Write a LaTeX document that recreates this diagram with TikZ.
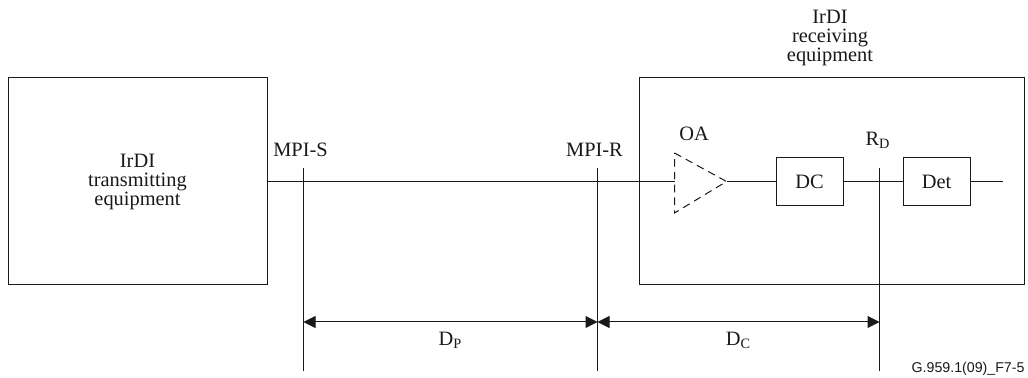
\documentclass[tikz,border=0pt]{standalone}
\usepackage{fontspec}
\setmainfont{Liberation Serif}
\newfontfamily\figfont{Liberation Sans}
\usetikzlibrary{arrows.meta}
\tikzset{
    box/.style={draw, inner sep=0pt, align=center},
    dim/.style={<->, >={Triangle[length=6pt,width=6pt]}},
    lbl/.style={inner sep=0pt, align=center}
}

\begin{document}
\begin{tikzpicture}[x=0.5pt, y=-0.5pt, line width=0.5pt, black!90, font=\fontsize{10.2}{9.5}\selectfont]

        \useasboundingbox (0, 0) rectangle (1028, 378);

        \coordinate (Oin) at (674.5, 181.5);
        \coordinate (Otop) at (674.5, 153);
        \coordinate (Obot) at (674.5, 213);
        \coordinate (Otip) at (726.5, 181.5);
        \coordinate (End) at (1003, 181.5);

        \coordinate (Stop) at (303.5, 168);
        \coordinate (Sbot) at (303.5, 371);
        \coordinate (Rtop) at (597.5, 168);
        \coordinate (Rbot) at (597.5, 371);
        \coordinate (Dtop) at (879.5, 168);
        \coordinate (Dbot) at (879.5, 371);

        \coordinate (Sdim) at (303.5, 322);
        \coordinate (Rdim) at (597.5, 322);
        \coordinate (Ddim) at (879.5, 322);

        % Boxes

        \node[box, minimum width=129.5pt, minimum height=103.5pt] (tx) at (137.5, 181.5) {IrDI\\transmitting\\equipment};
        \node[box, minimum width=192.5pt, minimum height=103.5pt] (rx) at (831.5, 181.5) {};
        \node[box, minimum width=33.5pt, minimum height=24pt] (dc) at (809.5, 181.5) {DC};
        \node[box, minimum width=33.5pt, minimum height=24pt] (det) at (936.5, 181.5) {Det};

        % Signal path

        \draw (tx.east |- Oin) -- (Oin);
        \draw[dashed, dash pattern=on 3.8pt off 2.6pt] (Otop) -- (Otip) -- (Obot) -- cycle;
        \draw (Otip) -- (dc.west);
        \draw (dc.east) -- (det.west);
        \draw (det.east) -- (End);

        % Reference points

        \draw (Stop) -- (Sbot);
        \draw (Rtop) -- (Rbot);
        \draw (Dtop) -- (Dbot);

        \draw[dim] (Sdim) -- node[lbl, midway, below=5pt] (dp) {D\textsubscript{P}} (Rdim);
        \draw[dim] (Rdim) -- node[lbl, midway, below=5pt] (dcl) {D\textsubscript{C}} (Ddim);

        % Labels

        \node[lbl] (rxl) at (830, 38) {IrDI\\receiving\\equipment};
        \node[lbl] (mpis) at (300.5, 150) {MPI-S};
        \node[lbl] (mpir) at (594.5, 150) {MPI-R};
        \node[lbl] (oa) at (694, 133.5) {OA};
        \node[lbl] (rd) at (878, 140) {R\textsubscript{D}};
        \node[lbl, anchor=east, font=\figfont\fontsize{7.1}{8}\selectfont] (fig) at (1025, 369) {G.959.1(09)\_F7-5};

    \end{tikzpicture}
\end{document}
